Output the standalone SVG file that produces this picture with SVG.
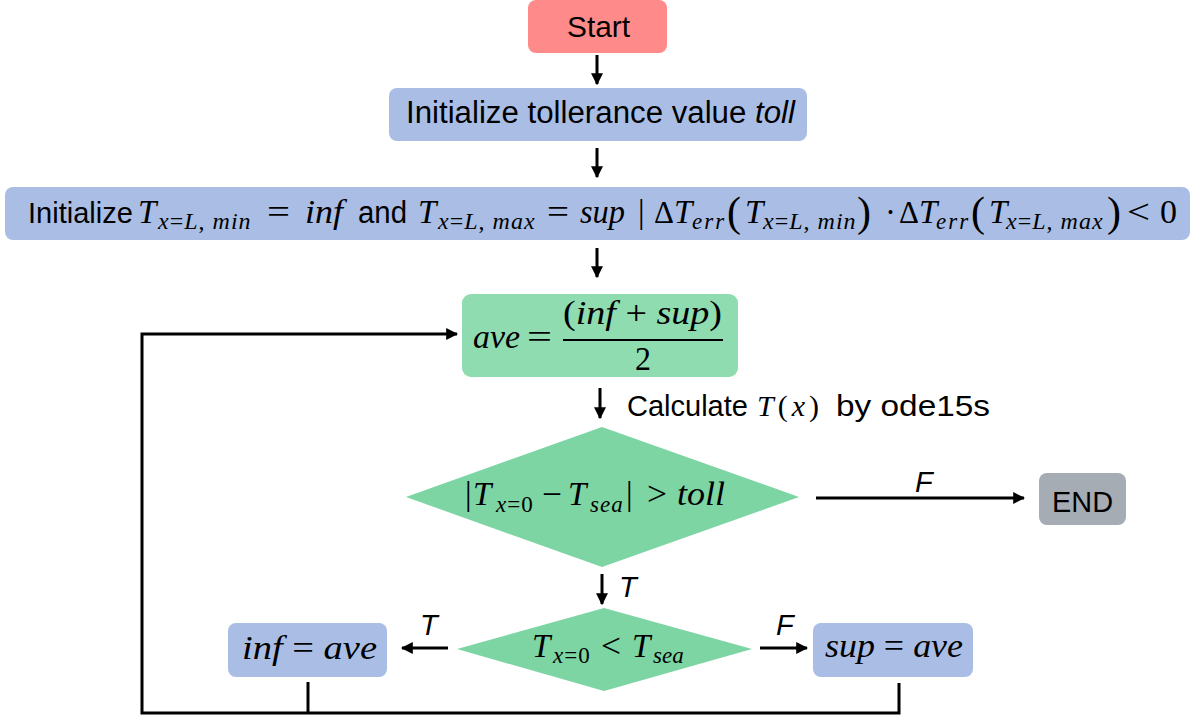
<svg xmlns="http://www.w3.org/2000/svg" width="1194" height="720" viewBox="0 0 1194 720">
<style>
.sans{font-family:"Liberation Sans",Arial,sans-serif;fill:#000}
.m{font-family:"Liberation Serif","DejaVu Serif",serif;font-style:italic;fill:#000}
.u{font-family:"Liberation Serif","DejaVu Serif",serif;font-style:normal;fill:#000}
.ln{stroke:#000;stroke-width:3;fill:none}
.blue{fill:#AABEE5}
.green{fill:#8EDCB0}
.dia{fill:#7DD5A4}
.b3{font-size:33px}
.s3{font-size:24px;letter-spacing:1px}
.se{font-size:23px;letter-spacing:2px}
</style>
<defs>
<marker id="ah" viewBox="0 0 10 10" refX="9" refY="5" markerWidth="4" markerHeight="4" orient="auto" markerUnits="strokeWidth">
<path d="M0,0 L10,5 L0,10 z" fill="#000"/>
</marker>
</defs>
<rect width="1194" height="720" fill="#fff"/>

<g id="start">
<rect x="528" y="0" width="139" height="53" rx="8" fill="#FF8A8A"/>
<text class="sans" x="567" y="37" font-size="30" textLength="63" lengthAdjust="spacingAndGlyphs">Start</text>
</g>

<g id="init-toll">
<rect class="blue" x="389" y="88" width="418" height="53" rx="8"/>
<text class="sans" x="406" y="123" font-size="31" textLength="389" lengthAdjust="spacingAndGlyphs">Initialize tollerance value <tspan font-style="italic">toll</tspan></text>
</g>

<g id="init-bounds">
<rect class="blue" x="5" y="187" width="1185" height="53" rx="8"/>
<text class="sans" x="28" y="223" font-size="29">Initialize</text>
<text class="m b3" x="138" y="223">T<tspan class="s3" x="158" y="229">x<tspan class="u">=</tspan>L<tspan class="u">, </tspan>min</tspan></text>
<text class="u b3" x="267" y="223" textLength="23" lengthAdjust="spacingAndGlyphs">=</text>
<text class="m b3" x="305" y="223" textLength="38" lengthAdjust="spacingAndGlyphs">inf</text>
<text class="sans" x="358" y="223" font-size="31" textLength="49" lengthAdjust="spacingAndGlyphs">and</text>
<text class="m b3" x="418" y="223">T<tspan class="s3" x="438" y="229">x<tspan class="u">=</tspan>L<tspan class="u">, </tspan>max</tspan></text>
<text class="u b3" x="547" y="223" textLength="22" lengthAdjust="spacingAndGlyphs">=</text>
<text class="m b3" x="580" y="223" textLength="45" lengthAdjust="spacingAndGlyphs">sup</text>
<text class="u b3" x="638" y="223">|</text>
<text class="u" x="654" y="223" font-size="31">Δ</text>
<text class="m b3" x="674" y="223">T<tspan class="se" x="692" y="229">err</tspan></text>
<text class="u" x="727" y="226" font-size="42">(</text>
<text class="m b3" x="745" y="223">T<tspan class="s3" x="763" y="229">x<tspan class="u">=</tspan>L<tspan class="u">, </tspan>min</tspan></text>
<text class="u" x="857" y="226" font-size="42">)</text>
<text class="u b3" x="885" y="223">·</text>
<text class="u" x="899" y="223" font-size="31">Δ</text>
<text class="m b3" x="919" y="223">T<tspan class="se" x="936" y="229">err</tspan></text>
<text class="u" x="971" y="226" font-size="42">(</text>
<text class="m b3" x="989" y="223">T<tspan class="s3" x="1006" y="229">x<tspan class="u">=</tspan>L<tspan class="u">, </tspan>max</tspan></text>
<text class="u" x="1107" y="226" font-size="42">)</text>
<text class="u b3" x="1127" y="223" textLength="23" lengthAdjust="spacingAndGlyphs">&lt;</text>
<text class="u b3" x="1160" y="223" textLength="17" lengthAdjust="spacingAndGlyphs">0</text>
</g>

<g id="ave">
<rect class="green" x="462" y="294" width="276" height="83" rx="9"/>
<text class="m" x="473" y="348" font-size="33" textLength="47" lengthAdjust="spacingAndGlyphs">ave</text>
<text class="u" x="527" y="348" font-size="33" textLength="25" lengthAdjust="spacingAndGlyphs">=</text>
<line x1="563" y1="340" x2="723" y2="340" stroke="#000" stroke-width="2"/>
<text class="m" x="563" y="324" font-size="33" textLength="159" lengthAdjust="spacingAndGlyphs"><tspan class="u">(</tspan>inf <tspan class="u">+</tspan> sup<tspan class="u">)</tspan></text>
<text class="u" x="635" y="370" font-size="33" textLength="16" lengthAdjust="spacingAndGlyphs">2</text>
</g>

<g id="check-toll">
<polygon class="dia" points="602,427 799,497 602,567 406,497"/>
<text class="u" x="465" y="505" font-size="33">|<tspan class="m" x="473">T</tspan><tspan class="m" x="496" y="512" font-size="23" letter-spacing="1">x<tspan class="u">=0</tspan></tspan></text>
<text class="u" x="542" y="505" font-size="33" textLength="20" lengthAdjust="spacingAndGlyphs">−</text>
<text class="m" x="568" y="505" font-size="33">T<tspan x="590" y="512" font-size="23" letter-spacing="1">sea</tspan><tspan class="u" x="626" y="505">|</tspan></text>
<text class="u" x="647" y="505" font-size="33" textLength="20" lengthAdjust="spacingAndGlyphs">&gt;</text>
<text class="m" x="677" y="505" font-size="33" textLength="48" lengthAdjust="spacingAndGlyphs">toll</text>
</g>

<g id="end">
<rect x="1039" y="473" width="87" height="52" rx="8" fill="#A6ACB4"/>
<text class="sans" x="1052" y="512" font-size="30" textLength="61" lengthAdjust="spacingAndGlyphs">END</text>
</g>

<g id="compare">
<polygon class="dia" points="604,608 752,649 604,691 457,649"/>
<text class="m" x="532" y="657" font-size="33">T<tspan x="553" y="663" font-size="23" letter-spacing="1">x<tspan class="u">=0</tspan></tspan></text>
<text class="u" x="601" y="657" font-size="33" textLength="20" lengthAdjust="spacingAndGlyphs">&lt;</text>
<text class="m" x="632" y="657" font-size="33">T<tspan x="653" y="663" font-size="23">sea</tspan></text>
</g>

<g id="inf-ave">
<rect class="blue" x="228" y="623" width="159" height="54" rx="8"/>
<text class="m" x="242" y="659" font-size="33" textLength="135" lengthAdjust="spacingAndGlyphs">inf <tspan class="u">=</tspan> ave</text>
</g>

<g id="sup-ave">
<rect class="blue" x="813" y="623" width="160" height="54" rx="8"/>
<text class="m" x="825" y="657" font-size="33" textLength="138" lengthAdjust="spacingAndGlyphs">sup <tspan class="u">=</tspan> ave</text>
</g>

<g id="connectors">
<line class="ln" x1="597" y1="55" x2="597" y2="84" marker-end="url(#ah)"/>
<line class="ln" x1="597" y1="148" x2="597" y2="177" marker-end="url(#ah)"/>
<line class="ln" x1="597" y1="248" x2="597" y2="277" marker-end="url(#ah)"/>
<line class="ln" x1="600" y1="388" x2="600" y2="418" marker-end="url(#ah)"/>
<line class="ln" x1="816" y1="498" x2="1024" y2="498" marker-end="url(#ah)"/>
<line class="ln" x1="602" y1="574" x2="602" y2="604" marker-end="url(#ah)"/>
<line class="ln" x1="760" y1="648" x2="807" y2="648" marker-end="url(#ah)"/>
<line class="ln" x1="448" y1="648" x2="402" y2="648" marker-end="url(#ah)"/>
<polyline class="ln" points="308,682 308,713"/>
<polyline class="ln" points="899,683 899,713 142,713 142,334 457,334" marker-end="url(#ah)"/>
<text class="sans" x="627" y="416" font-size="29">Calculate</text>
<text class="m" x="757" y="416" font-size="30" letter-spacing="4">T<tspan class="u">(</tspan>x<tspan class="u">)</tspan></text>
<text class="sans" x="836" y="416" font-size="30" textLength="154" lengthAdjust="spacingAndGlyphs">by ode15s</text>
<text class="sans" x="915" y="492" font-size="29" font-style="italic">F</text>
<text class="sans" x="619" y="597" font-size="29" font-style="italic">T</text>
<text class="sans" x="776" y="635" font-size="29" font-style="italic">F</text>
<text class="sans" x="420" y="635" font-size="29" font-style="italic">T</text>
</g>
</svg>
